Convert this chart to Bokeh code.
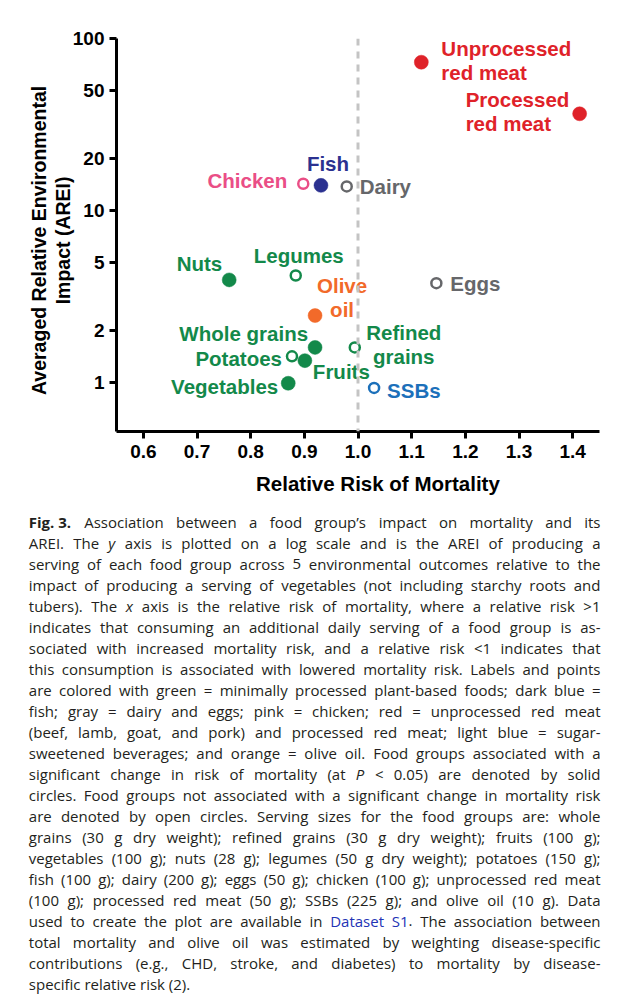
from bokeh.plotting import figure
from bokeh.models import (Range1d, FixedTicker, PrintfTickFormatter, Span,
                          ColumnDataSource)
from bokeh.layouts import column
from bokeh.core.properties import value, field
from bokeh.embed import file_html
from bokeh.resources import INLINE

# ---------------- data ----------------
foods = ["Vegetables", "Potatoes", "Fruits", "Whole grains", "Nuts", "Legumes",
         "Olive\noil", "Refined\ngrains", "SSBs", "Eggs", "Dairy", "Fish",
         "Chicken", "Unprocessed\nred meat", "Processed\nred meat"]
relative_risk = [0.870, 0.877, 0.901, 0.920, 0.760, 0.884,
                 0.920, 0.994, 1.030, 1.146, 0.979, 0.931,
                 0.898, 1.118, 1.413]
arei = [0.99, 1.42, 1.34, 1.60, 3.95, 4.19,
        2.45, 1.60, 0.93, 3.78, 13.8, 14.0,
        14.3, 72.8, 36.5]
group = ["plant", "plant", "plant", "plant", "plant", "plant",
         "olive", "plant", "ssb", "dairy", "dairy", "fish",
         "chicken", "red", "red"]
significant = [True, False, True, True, True, False,
               True, False, False, False, False, True,
               False, True, True]
x_ticks = [0.6, 0.7, 0.8, 0.9, 1.0, 1.1, 1.2, 1.3, 1.4]
y_ticks = [1, 2, 5, 10, 20, 50, 100]
reference_rr = 1.0
x_title = "Relative Risk of Mortality"
y_title = ["Averaged Relative Environmental", "Impact (AREI)"]

# ---------------- styles ----------------
group_colors = {"plant": "#13894a", "olive": "#f26a2a", "ssb": "#1c70ba",
                "dairy": "#66676a", "fish": "#2b3190", "chicken": "#ea4e86",
                "red": "#df2229"}
# label placement (screen px offset from point, alignment)
label_layout = {
    "Vegetables": (-10, 3, "right"),
    "Potatoes": (-10, 2, "right"),
    "Fruits": (8, 11, "left"),
    "Whole grains": (-7, -14, "right"),
    "Nuts": (-7, -16, "right"),
    "Legumes": (3, -20, "center"),
    "Olive\noil": (27, -18, "center"),
    "Refined\ngrains": (49, -3, "center"),
    "SSBs": (13, 3, "left"),
    "Eggs": (14, 0, "left"),
    "Dairy": (13, 0, "left"),
    "Fish": (7, -22, "center"),
    "Chicken": (-16, -3, "right"),
    "Unprocessed\nred meat": (20, -2, "left"),
    "Processed\nred meat": (-114, -2, "left"),
}

FONT = value("Liberation Sans")
W = 618
CHART_H = 503
NBSP = "\u00a0"

p = figure(width=W, height=CHART_H, y_axis_type="log",
           x_range=Range1d(0.55, 1.45), y_range=Range1d(0.519, 100),
           output_backend="svg", toolbar_location=None,
           min_border_left=116, min_border_right=19,
           min_border_top=38, min_border_bottom=72)
p.frame_align = False
p.outline_line_color = None
p.grid.grid_line_color = None
p.background_fill_color = "white"

for ax in (p.xaxis[0], p.yaxis[0]):
    ax.axis_line_width = 3
    ax.axis_line_color = "black"
    ax.major_tick_line_width = 3
    ax.major_tick_line_color = "black"
    ax.major_tick_out = 7
    ax.major_tick_in = 0
    ax.minor_tick_line_color = None
    ax.major_label_text_font = "Liberation Sans"
    ax.major_label_text_font_style = "bold"
    ax.major_label_text_font_size = "19px"
    ax.major_label_text_color = "black"
    ax.axis_label_text_font = "Liberation Sans"
    ax.axis_label_text_font_style = "bold"
    ax.axis_label_text_color = "black"

p.xaxis[0].ticker = FixedTicker(ticks=x_ticks)
p.xaxis[0].formatter = PrintfTickFormatter(format="%.1f")
p.xaxis[0].major_label_standoff = 6
# leading no-break spaces shift the centred title right, as in the reference
p.xaxis[0].axis_label = NBSP * 7 + x_title
p.xaxis[0].axis_label_text_font_size = "20.5px"
p.xaxis[0].axis_label_standoff = 11

p.yaxis[0].ticker = FixedTicker(ticks=y_ticks)
p.yaxis[0].formatter = PrintfTickFormatter(format="%d")
p.yaxis[0].major_label_standoff = 5
p.yaxis[0].axis_label = "\n".join(t + NBSP * 2 for t in y_title)
p.yaxis[0].axis_label_text_font_size = "19.5px"
p.yaxis[0].axis_label_standoff = -4
p.yaxis[0].axis_label_text_line_height = 1.1

p.add_layout(Span(location=reference_rr, dimension="height",
                  line_color="#c4c4c4", line_width=3, line_dash="7 6"))

colors = [group_colors[g] for g in group]
src = ColumnDataSource(dict(
    x=relative_risk, y=arei, name=foods, color=colors,
    dx=[label_layout[f][0] for f in foods],
    dy=[label_layout[f][1] for f in foods],
    align=[label_layout[f][2] for f in foods],
))
solid = ColumnDataSource(dict(
    x=[a for a, s in zip(relative_risk, significant) if s],
    y=[a for a, s in zip(arei, significant) if s],
    color=[c for c, s in zip(colors, significant) if s]))
hollow = ColumnDataSource(dict(
    x=[a for a, s in zip(relative_risk, significant) if not s],
    y=[a for a, s in zip(arei, significant) if not s],
    color=[c for c, s in zip(colors, significant) if not s]))

p.scatter("x", "y", source=solid, size=14, fill_color="color",
          line_color="color", line_width=0.5)
p.scatter("x", "y", source=hollow, size=10, fill_color="white",
          line_color="color", line_width=2.5)
p.text(x="x", y="y", text="name", source=src, x_offset="dx", y_offset="dy",
       text_align=field("align"), text_baseline="middle",
       text_color="color", text_font=FONT, text_font_style="bold",
       text_font_size="20.5px", text_line_height=1.03)

# ---------------- caption ----------------
CAP_H = 1000 - CHART_H
c = figure(width=W, height=CAP_H, x_range=Range1d(0, W),
           y_range=Range1d(CAP_H, 0), output_backend="svg",
           toolbar_location=None, min_border=0,
           x_axis_location=None, y_axis_location=None)
c.frame_align = False
c.outline_line_color = None
c.grid.grid_line_color = None

caption_lines = [
    [("Fig.\u00a03.", "b"), (" Association between a food group’s impact on mortality and its", "n")],
    [("AREI. The ", "n"), ("y", "i"), (" axis is plotted on a log scale and is the AREI of producing a", "n")],
    [("serving of each food group across 5 environmental outcomes relative to the", "n")],
    [("impact of producing a serving of vegetables (not including starchy roots and", "n")],
    [("tubers). The ", "n"), ("x", "i"), (" axis is the relative risk of mortality, where a relative risk >1", "n")],
    [("indicates that consuming an additional daily serving of a food group is as-", "n")],
    [("sociated with increased mortality risk, and a relative risk <1 indicates that", "n")],
    [("this consumption is associated with lowered mortality risk. Labels and points", "n")],
    [("are colored with green = minimally processed plant-based foods; dark blue =", "n")],
    [("fish; gray = dairy and eggs; pink = chicken; red = unprocessed red meat", "n")],
    [("(beef, lamb, goat, and pork) and processed red meat; light blue = sugar-", "n")],
    [("sweetened beverages; and orange = olive oil. Food groups associated with a", "n")],
    [("significant change in risk of mortality (at ", "n"), ("P", "i"), (" < 0.05) are denoted by solid", "n")],
    [("circles. Food groups not associated with a significant change in mortality risk", "n")],
    [("are denoted by open circles. Serving sizes for the food groups are: whole", "n")],
    [("grains (30 g dry weight); refined grains (30 g dry weight); fruits (100 g);", "n")],
    [("vegetables (100 g); nuts (28 g); legumes (50 g dry weight); potatoes (150 g);", "n")],
    [("fish (100 g); dairy (200 g); eggs (50 g); chicken (100 g); unprocessed red meat", "n")],
    [("(100 g); processed red meat (50 g); SSBs (225 g); and olive oil (10 g). Data", "n")],
    [("used to create the plot are available in ", "n"), ("Dataset S1", "link"), (". The association between", "n")],
    [("total mortality and olive oil was estimated by weighting disease-specific", "n")],
    [("contributions (e.g., CHD, stroke, and diabetes) to mortality by disease-", "n")],
    [("specific relative risk (2).", "n")],
]

CAP_FONT = "Open Sans"
CAP_SIZE = 15.0
LEFT, RIGHT = 28.3, 600.0
top_offset = CHART_H
first_line_y = 521.7
line_step = 20.98

# approximate Open Sans advance widths (units per 2048 em), for justification
_adv = {" ": 532, "\u00a0": 532, "!": 547, "(": 606, ")": 606, ",": 502,
        "-": 659, ".": 545, ":": 545, ";": 545, "<": 1171, "=": 1171,
        ">": 1171, "’": 393,
        "A": 1296, "B": 1327, "C": 1292, "D": 1493, "E": 1139, "F": 1057,
        "G": 1491, "H": 1511, "I": 571, "J": 547, "K": 1257, "L": 1063,
        "M": 1849, "N": 1544, "O": 1595, "P": 1233, "Q": 1595, "R": 1266,
        "S": 1124, "T": 1133, "U": 1491, "V": 1219, "W": 1896, "X": 1182,
        "Y": 1147, "Z": 1169,
        "a": 1139, "b": 1255, "c": 975, "d": 1255, "e": 1149, "f": 694,
        "g": 1122, "h": 1257, "i": 518, "j": 518, "k": 1075, "l": 518,
        "m": 1905, "n": 1257, "o": 1237, "p": 1255, "q": 1255, "r": 836,
        "s": 977, "t": 723, "u": 1257, "v": 1026, "w": 1593, "x": 1073,
        "y": 1028, "z": 977}
_style_factor = {"n": 1.0, "b": 1.07, "i": 0.97, "link": 1.0}


def text_width(s, st):
    tot = sum(_adv.get(ch, 1171 if ch.isdigit() else 1000) for ch in s)
    return tot / 2048.0 * CAP_SIZE * _style_factor[st]


styles = {"n": ("normal", "#231f20"), "b": ("bold", "#231f20"),
          "i": ("italic", "#231f20"), "link": ("normal", "#2233b5")}
runs = {k: dict(x=[], y=[], text=[], align=[]) for k in styles}
SPACE_W = text_width(" ", "n")

for li, segs in enumerate(caption_lines):
    # split the line into words made of styled runs
    chars = []
    for txt, st in segs:
        chars.extend((ch, st) for ch in txt)
    words, cur = [], []
    for ch, st in chars:
        if ch == " ":
            if cur:
                words.append(cur)
                cur = []
        else:
            if cur and cur[-1][1] == st:
                cur[-1] = (cur[-1][0] + ch, st)
            else:
                cur.append((ch, st))
    if cur:
        words.append(cur)
    widths = [sum(text_width(t, s) for t, s in w) for w in words]
    last = li == len(caption_lines) - 1
    if last or len(words) < 2:
        gap = SPACE_W
    else:
        gap = (RIGHT - LEFT - sum(widths)) / (len(words) - 1)
    yy = first_line_y + li * line_step - top_offset
    xx = LEFT
    for wi, (w, wd) in enumerate(zip(words, widths)):
        if (not last) and wi == len(words) - 1 and len(w) == 1 and wi > 0:
            t, s = w[0]
            runs[s]["x"].append(RIGHT)
            runs[s]["y"].append(yy)
            runs[s]["text"].append(t)
            runs[s]["align"].append("right")
        else:
            rx = xx
            for t, s in w:
                runs[s]["x"].append(rx)
                runs[s]["y"].append(yy)
                runs[s]["text"].append(t)
                runs[s]["align"].append("left")
                rx += text_width(t, s)
        xx += wd + gap

for key, (fstyle, col) in styles.items():
    d = runs[key]
    if d["x"]:
        c.text(x="x", y="y", text="text", source=ColumnDataSource(d),
               text_align=field("align"), text_baseline="middle",
               text_font=value(CAP_FONT), text_font_style=fstyle,
               text_font_size=f"{CAP_SIZE}px", text_color=col)

layout = column(p, c, spacing=0)
open("out.html", "w").write(file_html(layout, INLINE))
